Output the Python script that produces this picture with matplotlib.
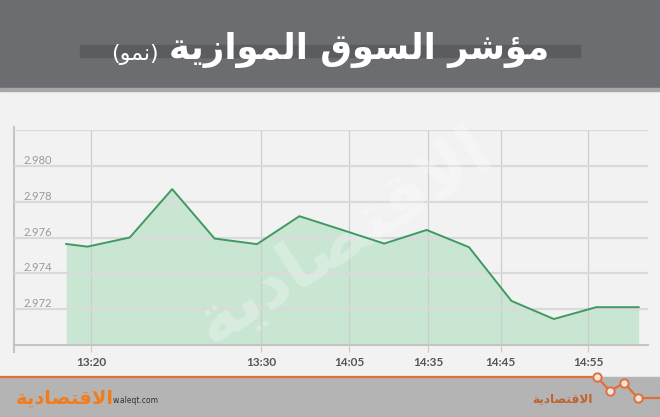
import matplotlib
matplotlib.use('Agg')
import matplotlib.pyplot as plt
from matplotlib.patches import Rectangle

# series (x = sample slot, first slot is half a step early)
x_pos = [0.5, 1, 2, 3, 4, 5, 6, 7, 8, 9, 10, 11, 12, 13, 14]
values = [2.97564, 2.97549, 2.97600, 2.97870, 2.97594, 2.97563, 2.97719,
          2.97643, 2.97566, 2.97642, 2.97546, 2.97246, 2.97145, 2.97211,
          2.97211]

x_tick_pos = [1.09, 5.10, 7.17, 9.03, 10.75, 12.81]
x_tick_labels = ['13:20', '13:30', '14:05', '14:35', '14:45', '14:55']
y_grid = [2.972, 2.974, 2.976, 2.978, 2.980, 2.982]
y_labels = ['2.972', '2.974', '2.976', '2.978', '2.980', '']

title_main = 'مؤشر السوق الموازية'
title_sub = '(نمو)'
brand = 'الاقتصادية'
site = 'w.aleqt.com'

# --- minimal arabic shaping (matplotlib has no bidi / joining) ---
BASE = {'ء': 0xFE80, 'آ': 0xFE81, 'أ': 0xFE83, 'ؤ': 0xFE85, 'إ': 0xFE87,
        'ئ': 0xFE89, 'ا': 0xFE8D, 'ب': 0xFE8F, 'ة': 0xFE93, 'ت': 0xFE95,
        'ث': 0xFE99, 'ج': 0xFE9D, 'ح': 0xFEA1, 'خ': 0xFEA5, 'د': 0xFEA9,
        'ذ': 0xFEAB, 'ر': 0xFEAD, 'ز': 0xFEAF, 'س': 0xFEB1, 'ش': 0xFEB5,
        'ص': 0xFEB9, 'ض': 0xFEBD, 'ط': 0xFEC1, 'ظ': 0xFEC5, 'ع': 0xFEC9,
        'غ': 0xFECD, 'ف': 0xFED1, 'ق': 0xFED5, 'ك': 0xFED9, 'ل': 0xFEDD,
        'م': 0xFEE1, 'ن': 0xFEE5, 'ه': 0xFEE9, 'و': 0xFEED, 'ى': 0xFEEF,
        'ي': 0xFEF1}
RIGHT_ONLY = set('آأؤإادذرزوةى')
LAM_ALEF = {'ا': 0xFEFB, 'أ': 0xFEF7, 'إ': 0xFEF9, 'آ': 0xFEF5}


def dual(c):
    return c in BASE and c not in RIGHT_ONLY and c != 'ء'


def shape(s):
    out = []
    i = 0
    while i < len(s):
        c = s[i]
        if c not in BASE:
            out.append(c)
            i += 1
            continue
        prev_join = i > 0 and dual(s[i - 1])
        if c == 'ل' and i + 1 < len(s) and s[i + 1] in LAM_ALEF:
            out.append(chr(LAM_ALEF[s[i + 1]] + (1 if prev_join else 0)))
            i += 2
            continue
        next_join = dual(c) and i + 1 < len(s) and s[i + 1] in BASE
        b = BASE[c]
        if prev_join and next_join:
            out.append(chr(b + 3))
        elif next_join:
            out.append(chr(b + 2))
        elif prev_join and c != 'ء':
            out.append(chr(b + 1))
        else:
            out.append(chr(b))
        i += 1
    vis = ''.join(reversed(out))
    return vis.translate(str.maketrans('()', ')('))


W, H = 660, 417
fig = plt.figure(figsize=(W / 100, H / 100), dpi=100, facecolor='#f2f2f2')

# decoration layer in pixel coordinates
bg = fig.add_axes([0, 0, 1, 1], zorder=0)
bg.set_xlim(0, W)
bg.set_ylim(H, 0)
bg.axis('off')
bg.add_patch(Rectangle((0, 0), W, 88, color='#6c6d71'))
bg.add_patch(Rectangle((80, 45), 500, 12, color='#5b5c60'))
bg.add_patch(Rectangle((0, 88), W, 2.5, color='#a7a7a9'))
bg.add_patch(Rectangle((0, 377), W, 40, color='#b4b4b4'))
bg.plot([0, 597, 610, 624, 638, 660], [377, 377, 391, 383, 398, 398],
        color='#e0703a', lw=1.6)
bg.plot([597, 610, 624, 638], [377, 391, 383, 398], ls='none', marker='o',
        ms=6, mfc='#f0e6de', mec='#e0703a', mew=1.4)
bg.plot([14, 14], [127, 352], color='#c4c4c4', lw=1.5)

fig.canvas.draw()
r = fig.canvas.get_renderer()


def fit(t, width):
    w = t.get_window_extent(r).width
    t.set_fontsize(t.get_fontsize() * width / w)


t1 = bg.text(549, 59, shape(title_main), ha='right', va='baseline',
             color='white', fontsize=26, fontweight='bold',
             family='DejaVu Sans')
fit(t1, 381)
t2 = bg.text(159, 60, shape(title_sub), ha='right', va='baseline',
             color='white', fontsize=18, family='DejaVu Sans')
fit(t2, 48)

b1 = bg.text(16, 404, shape(brand), ha='left', va='baseline',
             color='#f27c1c', fontsize=14, fontweight='bold',
             family='DejaVu Sans')
fit(b1, 98)
bg.text(113, 403, site, ha='left', va='baseline', color='#333333',
        fontsize=5.5, family='DejaVu Sans')
b2 = bg.text(532, 402, shape(brand), ha='left', va='baseline',
             color='#c2622c', fontsize=10, fontweight='bold',
             family='DejaVu Sans')
fit(b2, 61)

# chart
ax = fig.add_axes([14 / W, (H - 345) / H, (648 - 14) / W, (345 - 130) / H],
                  zorder=1)
ax.set_facecolor('none')
ax.set_xlim(-0.73, 14.22)
ax.set_ylim(2.970, 2.982)

ax.fill_between(x_pos, values, 2.970, color='#c9e6d3', lw=0, zorder=1)
ax.plot(x_pos, values, color='#3f9a62', lw=1.4, zorder=4)

wm = ax.text(0.52, 0.5, shape(brand), transform=ax.transAxes,
             ha='center', va='center', color='white', alpha=0.28,
             fontsize=40, fontweight='bold', family='DejaVu Sans',
             zorder=3, clip_on=False)
fit(wm, 340)
wm.set_rotation(33)

ax.set_axisbelow(False)
ax.set_yticks(y_grid, y_labels)
ax.set_xticks(x_tick_pos, x_tick_labels)
ax.grid(axis='y', color='#dadada', lw=1.6, zorder=2)
ax.grid(axis='x', color='#cdcdcd', lw=0.9, zorder=2)
for s in ['top', 'right', 'left']:
    ax.spines[s].set_visible(False)
ax.spines['bottom'].set_color('#c4c4c4')
ax.spines['bottom'].set_linewidth(1.5)

ax.tick_params(axis='y', length=0, pad=-7.2, labelsize=8,
               labelcolor='#9a9a9a')
for lbl in ax.get_yticklabels():
    lbl.set_ha('left')
    lbl.set_va('bottom')
    lbl.set_family('Lato')
ax.tick_params(axis='x', length=5, width=0.9, color='#cdcdcd', pad=3.5,
               labelsize=8.5, labelcolor='#555555')
for lbl in ax.get_xticklabels():
    lbl.set_family('Lato')
    lbl.set_fontweight('bold')

fig.savefig('out.png', dpi=100, facecolor=fig.get_facecolor())
